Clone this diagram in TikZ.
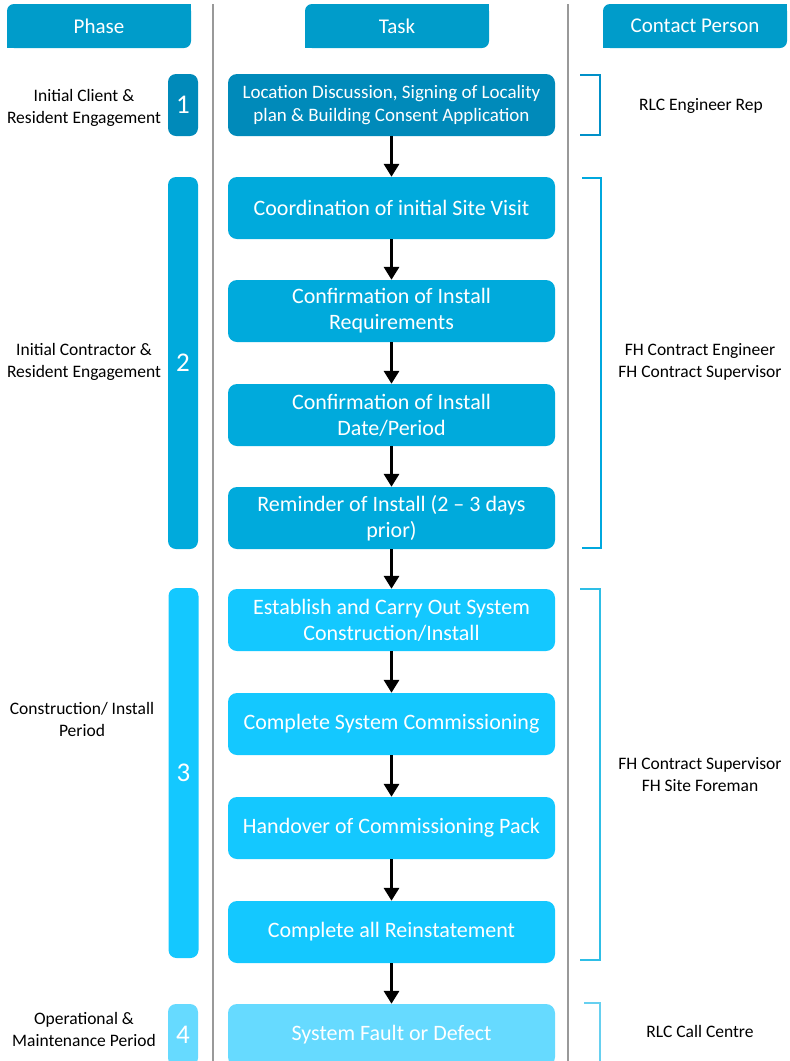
\documentclass[tikz,border=0pt]{standalone}
\usepackage{fontspec}
\setmainfont{Carlito}
\usepackage{xcolor}
\usetikzlibrary{positioning}
\usetikzlibrary{arrows.meta}
\definecolor{hdrblue}{RGB}{0,156,202}
\definecolor{phaseA}{RGB}{0,138,186}
\definecolor{phaseB}{RGB}{0,170,220}
\definecolor{phaseC}{RGB}{20,200,255}
\definecolor{phaseD}{RGB}{102,218,255}
\definecolor{brkA}{RGB}{0,144,200}
\definecolor{brkB}{RGB}{0,168,222}
\definecolor{brkC}{RGB}{46,190,230}
\definecolor{brkD}{RGB}{102,208,240}

\begin{document}
\begin{tikzpicture}[
	x=1pt,y=-1pt
]
\tikzset{
    hdr/.style = {rectangle, fill=hdrblue, rounded corners=7pt, minimum width=184pt, minimum height=44pt, text=white, font=\fontsize{21}{24}\selectfont},
    task/.style = {rectangle, rounded corners=9pt, minimum width=327pt, minimum height=62pt, text=white, align=center, font=\fontsize{22}{26}\selectfont},
    pill/.style = {rectangle, rounded corners=8pt, minimum width=30pt, text=white, font=\fontsize{27}{28}\selectfont},
    lbl/.style = {align=center, font=\fontsize{17.5}{22}\selectfont},
    flow/.style = {-{Triangle[length=13pt,width=15pt]}, line width=3.5pt},
    brk/.style = {line width=2pt}
}
\useasboundingbox (0,0) rectangle (790,1061);

\draw[gray!80, line width=1.2pt] (213,4) -- (213,1061);
\draw[gray!80, line width=1.2pt] (568,4) -- (568,1061);

\node[hdr] (hphase) at (99,26) {Phase};
\node[hdr] (htask) at (397,26) {Task};
\node[hdr] (hcontact) at (695,26) {Contact Person};
\foreach \h in {hphase,htask,hcontact} {
  \fill[hdrblue] (\h.north east) rectangle ++(-9,9);
  \fill[hdrblue] (\h.south west) rectangle ++(9,-9);
}

\node[pill,fill=phaseA,minimum height=62pt] (p1) at (183,105) {1};
\node[pill,fill=phaseB,minimum height=372pt] (p2) at (183,363) {2};
\node[pill,fill=phaseC,minimum height=370pt] (p3) at (183.5,773) {3};
\node[pill,fill=phaseD,minimum height=62pt] (p4) at (183,1035) {4};

\node[lbl] (l1) at (84,108) {Initial Client \&\\Resident Engagement};
\node[lbl] (l2) at (84,362) {Initial Contractor \&\\Resident Engagement};
\node[lbl] (l3) at (82,719) {Construction/ Install\\Period};
\node[lbl] (l4) at (84,1029) {Operational \&\\Maintenance Period};

\node[task,fill=phaseA,font=\fontsize{19}{23}\selectfont] (t1) at (391.5,105) {Location Discussion, Signing of Locality\\plan \& Building Consent Application};
\node[task,fill=phaseB] (t2) at (391.5,208) {Coordination of initial Site Visit};
\node[task,fill=phaseB] (t3) at (391.5,311) {Confirmation of Install\\Requirements};
\node[task,fill=phaseB] (t4) at (391.5,415) {Confirmation of Install\\Date/Period};
\node[task,fill=phaseB] (t5) at (391.5,518) {Reminder of Install (2 -- 3 days\\prior)};
\node[task,fill=phaseC] (t6) at (391.5,620) {Establish and Carry Out System\\Construction/Install};
\node[task,fill=phaseC] (t7) at (391.5,724) {Complete System Commissioning};
\node[task,fill=phaseC] (t8) at (391.5,828) {Handover of Commissioning Pack};
\node[task,fill=phaseC] (t9) at (391.5,932) {Complete all Reinstatement};
\node[task,fill=phaseD] (t10) at (391.5,1035) {System Fault or Defect};

\foreach \a/\b in {t1/t2,t2/t3,t3/t4,t4/t5,t5/t6,t6/t7,t7/t8,t8/t9,t9/t10}
  \draw[flow] (\a) -- (\b);

\draw[brk,brkA] (580,75) -- (600,75) -- (600,135) -- (580,135);
\draw[brk,brkB] (582,178) -- (601,178) -- (601,548) -- (582,548);
\draw[brk,brkC] (580,589) -- (600,589) -- (600,960) -- (580,960);
\draw[brk,brkD] (584,1003) -- (600,1003) -- (600,1061);

\node[lbl] (c1) at (701,106) {RLC Engineer Rep};
\node[lbl] (c2) at (700,362) {FH Contract Engineer\\FH Contract Supervisor};
\node[lbl] (c3) at (700,775) {FH Contract Supervisor\\FH Site Foreman};
\node[lbl] (c4) at (700,1031) {RLC Call Centre};
\end{tikzpicture}
\end{document}
